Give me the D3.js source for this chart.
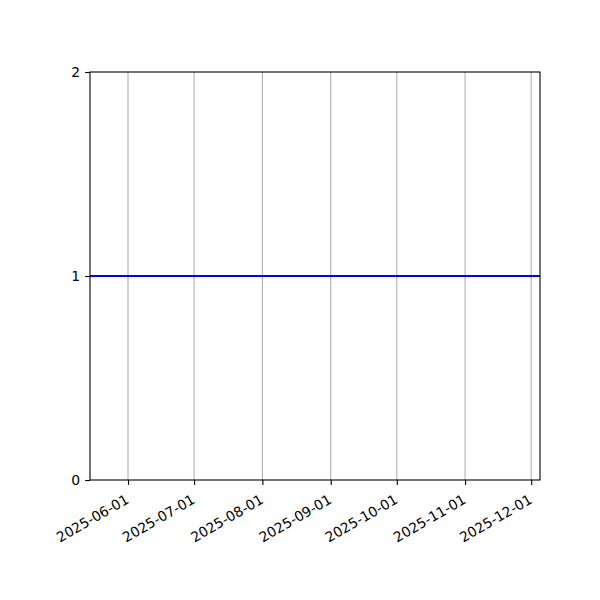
<!DOCTYPE html>
<html>
<head>
<meta charset="utf-8">
<script src="https://cdn.jsdelivr.net/npm/d3@7"></script>
<style>
  body { margin: 0; background: #fff; }
  svg text { font-family: "DejaVu Sans", sans-serif; font-size: 13.9px; fill: #000; }
</style>
</head>
<body>
<div id="chart"></div>
<script>
// series: one flat line at 1
const dates = ["2025-05-14T18:00", "2025-12-05T00:00"];
const values = [1, 1];
const yTicks = [0, 1, 2];
const xTickLabels = ["2025-06-01", "2025-07-01", "2025-08-01", "2025-09-01", "2025-10-01", "2025-11-01", "2025-12-01"];

const margin = { top: 72, right: 60, bottom: 120, left: 90 };
const width = 600 - margin.left - margin.right;
const height = 600 - margin.top - margin.bottom;

const parseDT = d3.timeParse("%Y-%m-%dT%H:%M");
const parseD = d3.timeParse("%Y-%m-%d");
const data = dates.map((d, i) => ({ date: parseDT(d), value: values[i] }));
const tickDates = xTickLabels.map(parseD);

const svg = d3.select("#chart").append("svg")
    .attr("width", 600)
    .attr("height", 600)
  .append("g")
    .attr("transform", `translate(${margin.left}, ${margin.top})`);

const xScale = d3.scaleTime().domain(d3.extent(data, d => d.date)).range([0, width]);
const yScale = d3.scaleLinear().domain([0, 2]).range([height, 0]);

// vertical grid lines
svg.append("g")
    .selectAll("line")
    .data(tickDates)
    .join("line")
    .attr("x1", d => xScale(d)).attr("x2", d => xScale(d))
    .attr("y1", 0).attr("y2", height)
    .attr("stroke", "#b0b0b0")
    .attr("stroke-width", 1.1);

// line
const line = d3.line().x(d => xScale(d.date)).y(d => yScale(d.value));
svg.append("path")
    .datum(data)
    .attr("fill", "none")
    .attr("stroke", "#0000ff")
    .attr("stroke-width", 2.1)
    .attr("d", line);

// frame
svg.append("rect")
    .attr("width", width).attr("height", height)
    .attr("fill", "none")
    .attr("stroke", "#000")
    .attr("stroke-width", 1.1);

const xAxis = d3.axisBottom(xScale)
    .tickValues(tickDates)
    .tickFormat(d3.timeFormat("%Y-%m-%d"))
    .tickSize(4.9).tickPadding(4.9).tickSizeOuter(0);
const yAxis = d3.axisLeft(yScale)
    .tickValues(yTicks)
    .tickFormat(d3.format("d"))
    .tickSize(4.9).tickPadding(4.9).tickSizeOuter(0);

const xg = svg.append("g")
    .attr("transform", `translate(0, ${height})`)
    .call(xAxis);
// rotated labels, right end tucked under the tick
xg.selectAll("text")
    .attr("text-anchor", "end")
    .attr("x", 0).attr("y", 0).attr("dy", 0)
    .attr("transform", "translate(1.4, 22.4) rotate(-30)");

const yg = svg.append("g").call(yAxis);

svg.selectAll(".domain").remove();
svg.selectAll(".tick line").attr("stroke", "#000").attr("stroke-width", 1.1);
svg.selectAll(".tick text").style("font-family", "DejaVu Sans").style("font-size", "13.9px").attr("fill", "#000");
</script>
</body>
</html>
